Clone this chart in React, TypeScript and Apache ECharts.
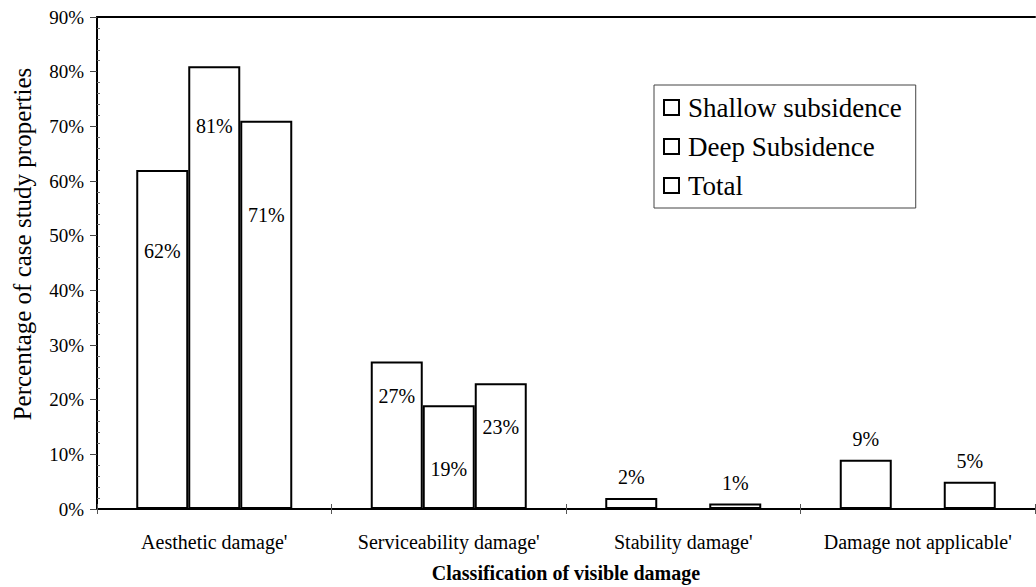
import React, { useEffect, useRef } from "react";
import * as echarts from "echarts";

// Share of case study properties by class of visible damage (%)
const categories = [
  "Aesthetic damage'",
  "Serviceability damage'",
  "Stability damage'",
  "Damage not applicable'",
];
const seriesNames = ["Shallow subsidence", "Deep Subsidence", "Total"];
const shallowValues: (number | null)[] = [62, 27, 2, 9];
const deepValues: (number | null)[] = [81, 19, null, null];
const totalValues: (number | null)[] = [71, 23, 1, 5];
const yTicks = { min: 0, max: 90, interval: 10 };

// Where each value label sits: [position, distance from the bar top]
type LabelPlace = [string, number];
const shallowLabelPlace: LabelPlace[] = [["insideTop", 71], ["insideTop", 25], ["top", 11], ["top", 11]];
const deepLabelPlace: LabelPlace[] = [["insideTop", 50], ["insideTop", 54], ["top", 11], ["top", 11]];
const totalLabelPlace: LabelPlace[] = [["insideTop", 84], ["insideTop", 34], ["top", 11], ["top", 11]];

const FONT = "Liberation Serif";

function buildData(values: (number | null)[], places: LabelPlace[]) {
  return values.map((v, i) =>
    v === null
      ? null
      : {
          value: v,
          label: { position: places[i][0], distance: places[i][1] },
        }
  );
}

export default function App() {
  const ref = useRef<HTMLDivElement>(null);

  useEffect(() => {
    if (!ref.current) return;
    const chart = echarts.init(ref.current, undefined, { renderer: "svg" });

    const barStyle = { color: "#ffffff", borderColor: "#000000", borderWidth: 2 };
    const labelStyle = {
      show: true,
      formatter: "{c}%",
      color: "#000",
      fontFamily: FONT,
      fontSize: 20,
    };

    const makeSeries = (name: string, values: (number | null)[], places: LabelPlace[]) => ({
      name,
      type: "bar",
      xAxisIndex: 0,
      yAxisIndex: 0,
      barWidth: 52,
      barGap: "0%",
      itemStyle: barStyle,
      label: labelStyle,
      data: buildData(values, places),
    });

    chart.setOption({
      animation: false,
      backgroundColor: "#ffffff",
      textStyle: { fontFamily: FONT },
      grid: {
        left: 97,
        right: 1,
        top: 17,
        bottom: 78,
        containLabel: false,
        outerBoundsMode: "none",
      },
      legend: {
        orient: "vertical",
        left: 654,
        top: 85,
        padding: [9, 14, 9, 9],
        itemGap: 12,
        itemWidth: 15,
        itemHeight: 15,
        icon: "rect",
        itemStyle: { color: "#fff", borderColor: "#000", borderWidth: 2 },
        borderColor: "#444",
        borderWidth: 1,
        backgroundColor: "#fff",
        textStyle: { color: "#000", fontFamily: FONT, fontSize: 27, padding: [0, 0, 0, 4] },
        data: seriesNames,
      },
      xAxis: [
        {
          type: "category",
          data: categories,
          position: "bottom",
          name: "Classification of visible damage",
          nameLocation: "middle",
          nameGap: 54,
          nameMoveOverlap: false,
          nameTextStyle: { color: "#000", fontFamily: FONT, fontSize: 20, fontWeight: "bold" },
          axisLine: { lineStyle: { color: "#000", width: 2 } },
          axisTick: { show: true, length: 5, lineStyle: { color: "#555", width: 1 } },
          axisLabel: { interval: 0, color: "#000", fontFamily: FONT, fontSize: 20, margin: 23 },
        },
        {
          // upward half of the category boundary ticks
          type: "category",
          data: categories,
          position: "bottom",
          axisLine: { show: false },
          axisTick: { show: true, inside: true, length: 5, lineStyle: { color: "#555", width: 1 } },
          axisLabel: { show: false },
        },
        {
          // frame line along the top of the plot
          type: "category",
          data: categories,
          position: "top",
          axisLine: { show: true, lineStyle: { color: "#000", width: 2 } },
          axisTick: { show: false },
          axisLabel: { show: false },
        },
      ],
      yAxis: [
        {
          type: "value",
          min: yTicks.min,
          max: yTicks.max,
          interval: yTicks.interval,
          name: "Percentage of case study properties",
          nameLocation: "middle",
          nameGap: 62,
          nameMoveOverlap: false,
          nameRotate: 90,
          nameTextStyle: {
            color: "#000",
            fontFamily: FONT,
            fontSize: 25,
            padding: [0, 0, 0, 38],
          },
          axisLine: { show: true, lineStyle: { color: "#000", width: 2 } },
          axisTick: { show: true, length: 7, lineStyle: { color: "#444", width: 1 } },
          axisLabel: {
            color: "#000",
            fontFamily: FONT,
            fontSize: 19,
            margin: 13,
            formatter: "{value}%",
          },
          splitLine: { show: false },
        },
        {
          // short minor marks on the inner side of the value axis
          type: "value",
          position: "left",
          min: yTicks.min,
          max: yTicks.max,
          interval: yTicks.interval,
          axisLine: { show: false },
          axisTick: { show: false, inside: true },
          minorTick: { show: true, splitNumber: 5, length: 3, lineStyle: { color: "#666", width: 1 } },
          axisLabel: { show: false },
          splitLine: { show: false },
        },
      ],
      series: [
        makeSeries(seriesNames[0], shallowValues, shallowLabelPlace),
        makeSeries(seriesNames[1], deepValues, deepLabelPlace),
        makeSeries(seriesNames[2], totalValues, totalLabelPlace),
      ],
    });

    return () => chart.dispose();
  }, []);

  return (
    <div
      ref={ref}
      style={{ position: "fixed", left: 0, top: 0, width: 1036, height: 587, background: "#fff" }}
    />
  );
}
